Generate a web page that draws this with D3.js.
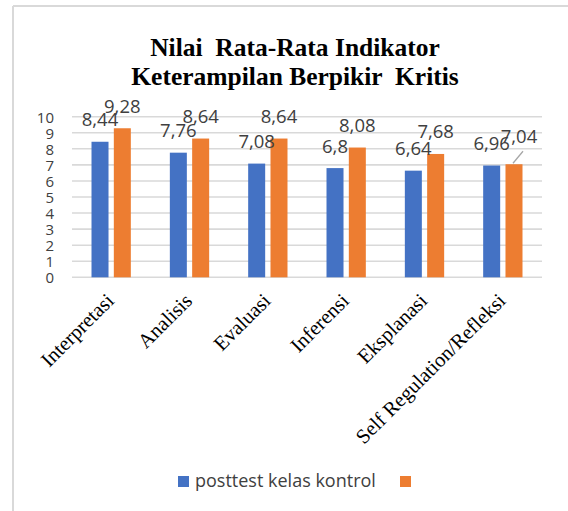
<!DOCTYPE html>
<html>
<head>
<meta charset="utf-8">
<script src="https://cdn.jsdelivr.net/npm/d3@7"></script>
<style>
  html, body { margin: 0; padding: 0; background: #fff; }
  svg { display: block; }
</style>
</head>
<body>
<script>
const categories = ["Interpretasi", "Analisis", "Evaluasi", "Inferensi", "Eksplanasi", "Self Regulation/Refleksi"];
const kontrol = [8.44, 7.76, 7.08, 6.8, 6.64, 6.96];
const eksperimen = [9.28, 8.64, 8.64, 8.08, 7.68, 7.04];
const seriesNames = ["posttest kelas kontrol", ""];
const seriesColors = ["#4472c4", "#ed7d31"];
const yTicks = [0, 1, 2, 3, 4, 5, 6, 7, 8, 9, 10];
const titleLines = ["Nilai  Rata-Rata Indikator", "Keterampilan Berpikir  Kritis"];

const W = 568, H = 511;
const svg = d3.select("body").append("svg").attr("width", W).attr("height", H);

// chart frame
svg.append("line").attr("x1", 13).attr("x2", W).attr("y1", 6).attr("y2", 6)
  .attr("stroke", "#d9d9d9").attr("stroke-width", 2);
svg.append("line").attr("x1", 13).attr("x2", 13).attr("y1", 6).attr("y2", H)
  .attr("stroke", "#d9d9d9").attr("stroke-width", 2);

// title
svg.append("g").selectAll("text").data(titleLines).join("text")
  .attr("x", 295).attr("y", (d, i) => 56 + i * 29)
  .attr("text-anchor", "middle")
  .style("white-space", "pre")
  .attr("font-family", "'Liberation Serif', 'Times New Roman', serif")
  .attr("font-weight", "bold").attr("font-size", 25.5).attr("fill", "#000")
  .text(d => d);

const plotL = 72, plotR = 542;
const y = d3.scaleLinear().domain([0, 10]).range([277.3, 116.7]);
const x0 = d3.scaleBand().domain(categories).range([plotL, plotR]).paddingInner(0.498).paddingOuter(0.249);
const x1 = d3.scaleBand().domain([0, 1]).range([0, x0.bandwidth()]).paddingInner(0.238);

// gridlines
svg.append("g").selectAll("line").data(yTicks).join("line")
  .attr("x1", plotL).attr("x2", plotR)
  .attr("y1", d => y(d)).attr("y2", d => y(d))
  .attr("stroke", "#d9d9d9").attr("stroke-width", 1.6);

// y axis labels
const yAxis = d3.axisLeft(y).tickValues(yTicks).tickSize(0).tickPadding(0).tickFormat(d3.format("d"));
const ga = svg.append("g").attr("transform", "translate(54,0)").call(yAxis);
ga.select(".domain").remove();
ga.selectAll("text").attr("font-family", "'Open Sans', sans-serif").attr("font-size", 15)
  .attr("fill", "#404040").attr("dy", "0.36em");

// bars
const rows = categories.map((c, i) => ({ c, vals: [kontrol[i], eksperimen[i]] }));
const groups = svg.append("g").selectAll("g").data(rows).join("g")
  .attr("transform", d => `translate(${x0(d.c)},0)`);
groups.selectAll("rect").data(d => d.vals.map((v, s) => ({ v, s }))).join("rect")
  .attr("x", d => x1(d.s)).attr("width", x1.bandwidth())
  .attr("y", d => y(d.v)).attr("height", d => y(0) - y(d.v))
  .attr("fill", d => seriesColors[d.s]);

// data labels
const fmt = v => String(v).replace(".", ",");
const labelG = svg.append("g");
[0, 1].forEach(s => {
  rows.forEach((r, i) => {
    const cx = x0(r.c) + x1(s) + x1.bandwidth() / 2;
    const top = y(r.vals[s]);
    let dx = 0, dy = 0;
    const moved = (s === 1 && i === categories.length - 1);
    if (moved) { dx = 5; dy = -5.5; }
    if (moved) {
      labelG.append("line")
        .attr("x1", cx - 1).attr("y1", top - 1)
        .attr("x2", cx + 9).attr("y2", top - 13)
        .attr("stroke", "#a6a6a6").attr("stroke-width", 1.3);
    }
    labelG.append("text")
      .attr("x", cx + dx).attr("y", top - 15.5 + dy)
      .attr("text-anchor", "middle")
      .attr("font-family", "'Open Sans', sans-serif").attr("font-size", 18.5)
      .attr("fill", "#404040")
      .text(fmt(r.vals[s]));
  });
});

// category labels
svg.append("g").selectAll("text").data(categories).join("text")
  .attr("transform", d => `translate(${x0(d) + x0.bandwidth() / 2 + 4},302) rotate(-45)`)
  .attr("text-anchor", "end")
  .attr("font-family", "'Liberation Serif', 'Times New Roman', serif")
  .attr("font-size", 20.5).attr("fill", "#000")
  .text(d => d);

// legend
const lg = svg.append("g");
lg.append("rect").attr("x", 178).attr("y", 476).attr("width", 11).attr("height", 11).attr("fill", seriesColors[0]);
lg.append("text").attr("x", 195).attr("y", 487)
  .attr("font-family", "'Open Sans', sans-serif").attr("font-size", 18).attr("fill", "#404040")
  .text(seriesNames[0]);
lg.append("rect").attr("x", 400).attr("y", 476).attr("width", 11).attr("height", 11).attr("fill", seriesColors[1]);
lg.append("text").attr("x", 416).attr("y", 487)
  .attr("font-family", "'Open Sans', sans-serif").attr("font-size", 18).attr("fill", "#404040")
  .text(seriesNames[1]);
</script>
</body>
</html>
